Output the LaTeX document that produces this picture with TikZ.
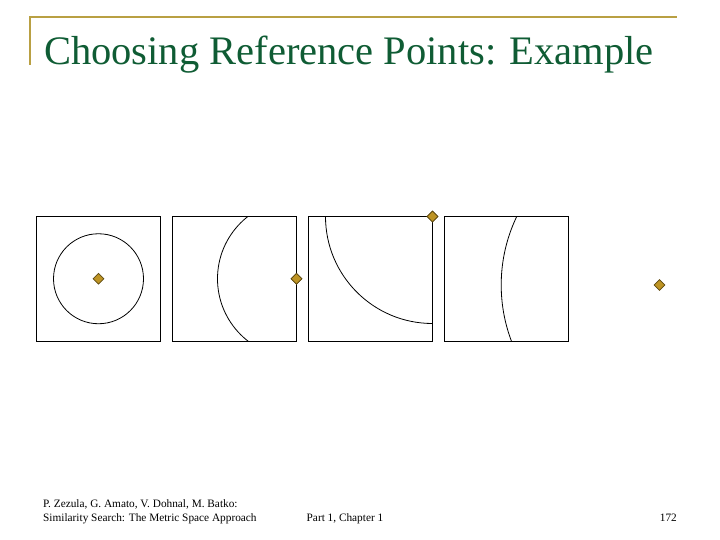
\documentclass[tikz,border=0pt]{standalone}
\usepackage{fontspec}
\setmainfont{Liberation Serif}
\usetikzlibrary{shapes.geometric}
\definecolor{gold}{HTML}{B9A043}
\definecolor{titlegreen}{HTML}{0F5C34}
\definecolor{ptfill}{HTML}{BE9424}
\definecolor{ptdraw}{HTML}{5E4A12}
\tikzset{
  framebox/.style={draw=black,line width=1pt},
  ball/.style={draw=black,line width=0.8pt},
  refpt/.style={shape=diamond,fill=ptfill,draw=ptdraw,line width=0.6pt,inner sep=0pt,minimum size=11pt},
  foot/.style={font=\fontsize{11.3}{13}\selectfont,anchor=base west,inner sep=0pt},
}
\begin{document}
\begin{tikzpicture}[x=1pt,y=-1pt]
\useasboundingbox (0,0) rectangle (720,540);
% header rule
\draw[gold,line width=2pt] (29.5,17.3) -- (677,17.3);
\draw[gold,line width=2pt] (29.5,16.3) -- (29.5,65);
\node[titlegreen,font=\fontsize{40.5}{44}\selectfont,anchor=base west,inner sep=0pt] (title) at (44,65) {Choosing Reference Points: Example};
% boxes
\foreach \i/\x in {1/36.5,2/172.5,3/308.5,4/444.5}{
  \coordinate (b\i a) at (\x,216.5);
  \coordinate (b\i b) at (\x+124,341);
}
\draw[framebox] (b1a) rectangle (b1b);
\draw[framebox] (b2a) rectangle (b2b);
\draw[framebox] (b3a) rectangle (b3b);
\draw[framebox] (b4a) rectangle (b4b);
% reference points
\node[refpt] (p1) at (98.5,278.75) {};
\node[refpt] (p2) at (296.5,278.75) {};
\node[refpt] (p3) at (432.5,216.5) {};
\node[refpt] (p4) at (659.5,285) {};
% balls
\draw[ball] (p1.center) circle[radius=45];
\begin{scope}
  \clip (b2a) rectangle (b2b);
  \draw[ball] (p2.center) circle[radius=79];
\end{scope}
\begin{scope}
  \clip (b3a) rectangle (b3b);
  \draw[ball] (p3.center) circle[radius=107];
\end{scope}
\begin{scope}
  \clip (b4a) rectangle (b4b);
  \draw[ball] (p4.center) circle[radius=158.3];
\end{scope}
% redraw points on top
\node[refpt] at (p2) {};
\node[refpt] at (p3) {};
% footer
\node[foot] (f1) at (43,507) {P. Zezula, G. Amato, V. Dohnal, M. Batko:};
\node[foot] (f2) at (43,521) {Similarity Search: The Metric Space Approach};
\node[foot] (f3) at (306.5,521) {Part 1, Chapter 1};
\node[foot,anchor=base east] (f4) at (677,521) {172};
\end{tikzpicture}
\end{document}
